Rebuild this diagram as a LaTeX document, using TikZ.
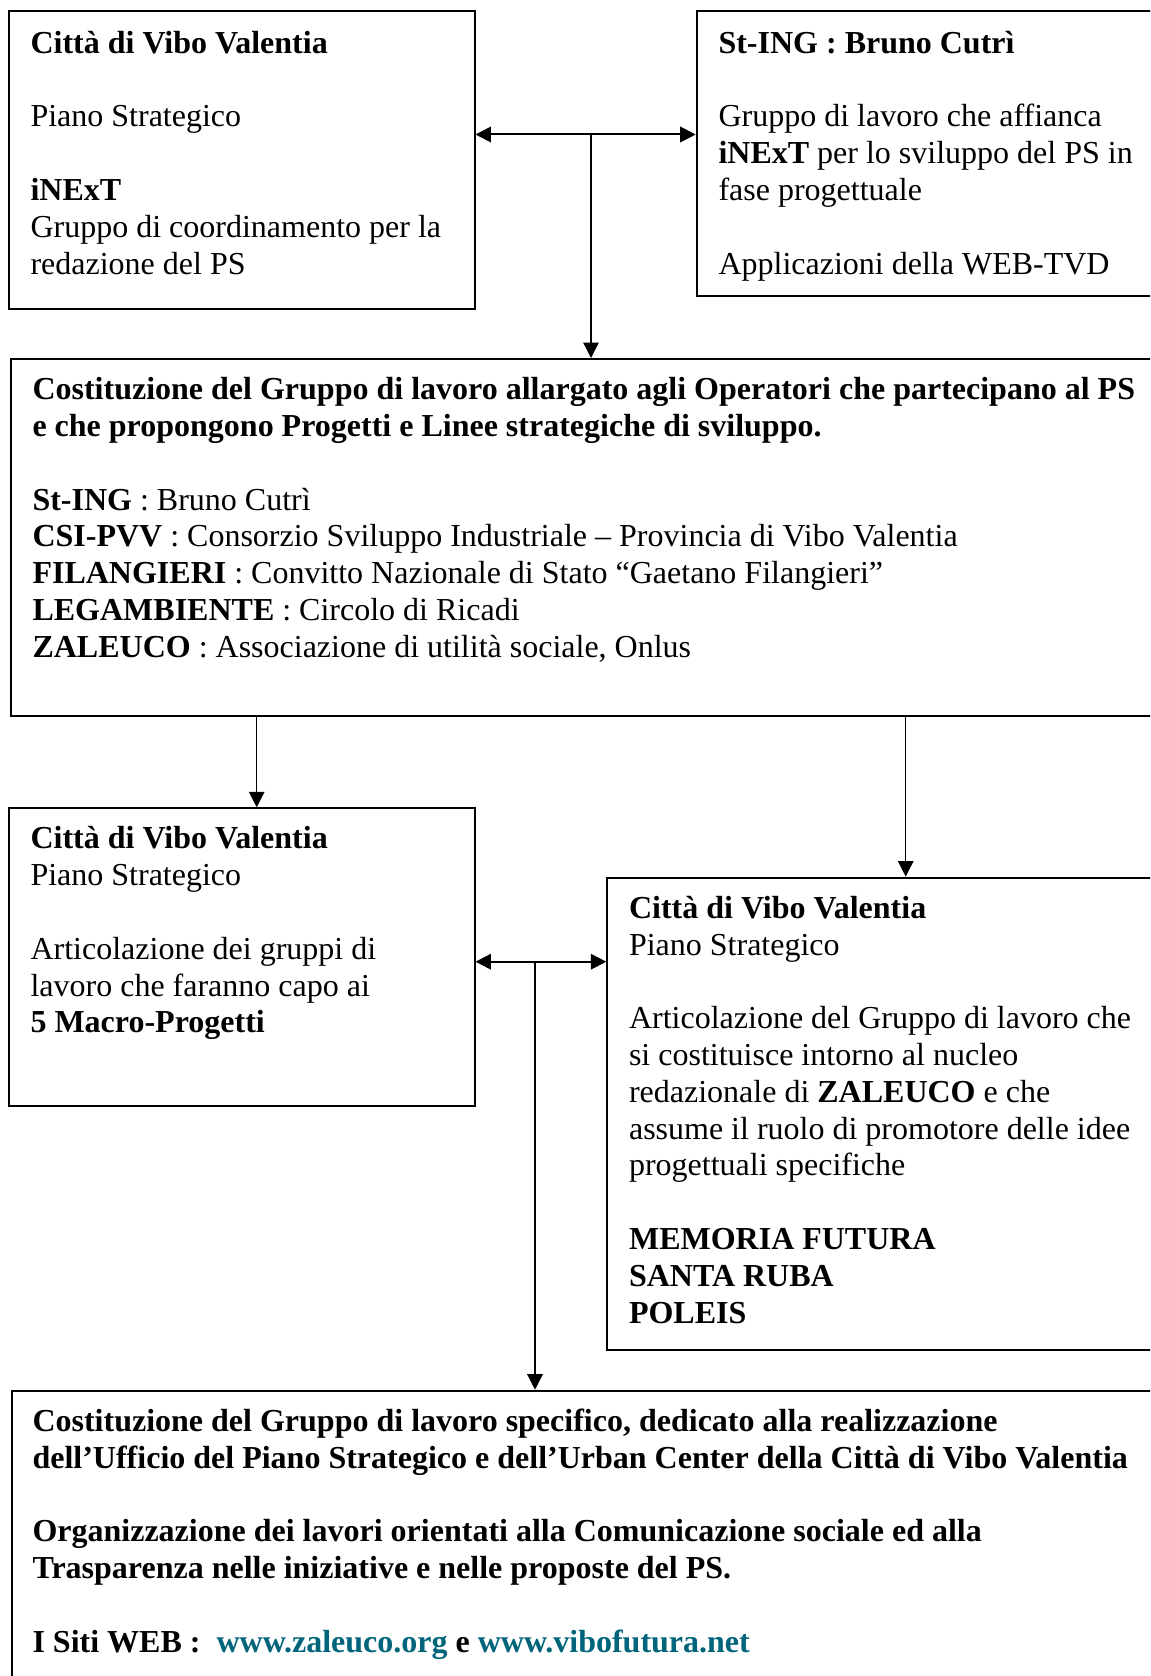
\documentclass[tikz,border=0pt]{standalone}
\usepackage{fontspec}
\setmainfont{Liberation Serif}
\usepackage{xcolor}
\usetikzlibrary{arrows.meta}
\usetikzlibrary{fit}
\definecolor{webteal}{RGB}{0,100,122}

\begin{document}
\begin{tikzpicture}[x=0.375pt,y=0.375pt,yscale=-1,xscale=1,
  box/.style={draw, line width=0.75pt, inner sep=0pt},
  txt/.style={anchor=north west, inner sep=0pt, align=left, font=\fontsize{12}{13.8}\selectfont},
  arrow/.style={line width=0.5pt, -{Triangle[length=5.8pt,width=5.8pt]}},
  dblarrow/.style={line width=0.75pt, {Triangle[length=5.8pt,width=5.8pt]}-{Triangle[length=5.8pt,width=5.8pt]}}]
\useasboundingbox (0,0) rectangle (1150,1676);
\clip (0,0) rectangle (1150,1676);

%Boxes
\node (city) [box, fit={(8.8,11.5) (474.5,309.5)}] {};
\node (sting) [box, fit={(696.7,11.5) (1165,296.5)}] {};
\node (allarg) [box, fit={(11,359) (1165,716)}] {};
\node (macro) [box, fit={(8.8,808.3) (474.5,1106)}] {};
\node (zaleuco) [box, fit={(607.3,877.6) (1165,1349.5)}] {};
\node (specif) [box, fit={(11.5,1390.7) (1165,1700)}] {};

% Text Node
\node (citytxt) [txt] at (30,27) {\strut\textbf{Città di Vibo Valentia}\\ \\
  Piano Strategico\\ \\
  \textbf{iNExT}\\
  Gruppo di coordinamento per la\\
  redazione del PS};
% Text Node
\node (stingtxt) [txt] at (718,27) {\strut\textbf{St-ING : Bruno Cutrì}\\ \\
  Gruppo di lavoro che affianca\\
  \textbf{iNExT} per lo sviluppo del PS in\\
  fase progettuale\\ \\
  Applicazioni della WEB-TVD};
% Text Node
\node (allargtxt) [txt] at (32,373.5) {\strut\textbf{Costituzione del Gruppo di lavoro allargato agli Operatori che partecipano al PS}\\
  \textbf{e che propongono Progetti e Linee strategiche di sviluppo.}\\ \\
  \textbf{St-ING} : Bruno Cutrì\\
  \textbf{CSI-PVV} : Consorzio Sviluppo Industriale – Provincia di Vibo Valentia\\
  \textbf{FILANGIERI} : Convitto Nazionale di Stato “Gaetano Filangieri”\\
  \textbf{LEGAMBIENTE} : Circolo di Ricadi\\
  \textbf{ZALEUCO} : Associazione di utilità sociale, Onlus};
% Text Node
\node (macrotxt) [txt] at (30,822.5) {\strut\textbf{Città di Vibo Valentia}\\
  Piano Strategico\\ \\
  Articolazione dei gruppi di\\
  lavoro che faranno capo ai\\
  \textbf{5 Macro-Progetti}};
% Text Node
\node (zaleucotxt) [txt] at (628.5,892) {\strut\textbf{Città di Vibo Valentia}\\
  Piano Strategico\\ \\
  Articolazione del Gruppo di lavoro che\\
  si costituisce intorno al nucleo\\
  redazionale di \textbf{ZALEUCO} e che\\
  assume il ruolo di promotore delle idee\\
  progettuali specifiche\\ \\
  \textbf{MEMORIA FUTURA}\\
  \textbf{SANTA RUBA}\\
  \textbf{POLEIS}};
% Text Node
\node (speciftxt) [txt] at (32,1405) {\strut\textbf{Costituzione del Gruppo di lavoro specifico, dedicato alla realizzazione}\\
  \textbf{dell’Ufficio del Piano Strategico e dell’Urban Center della Città di Vibo Valentia}\\ \\
  \textbf{Organizzazione dei lavori orientati alla Comunicazione sociale ed alla}\\
  \textbf{Trasparenza nelle iniziative e nelle proposte del PS.}\\ \\
  \textbf{I Siti WEB :\ \ \textcolor{webteal}{www.zaleuco.org} e \textcolor{webteal}{www.vibofutura.net}}};

%Straight Lines
\coordinate (j1) at (591,134.5);
\draw [dblarrow] (j1 -| city.east) -- (j1 -| sting.west);
\draw [arrow] (j1) -- (j1 |- allarg.north);
%Straight Lines
\coordinate (j2) at (256.7,760);
\draw [arrow] (j2 |- allarg.south) -- (j2 |- macro.north);
\coordinate (j3) at (905.7,800);
\draw [arrow] (j3 |- allarg.south) -- (j3 |- zaleuco.north);
%Straight Lines
\coordinate (j4) at (535,961.7);
\draw [dblarrow] (j4 -| macro.east) -- (j4 -| zaleuco.west);
\draw [arrow] (j4) -- (j4 |- specif.north);

\end{tikzpicture}
\end{document}
